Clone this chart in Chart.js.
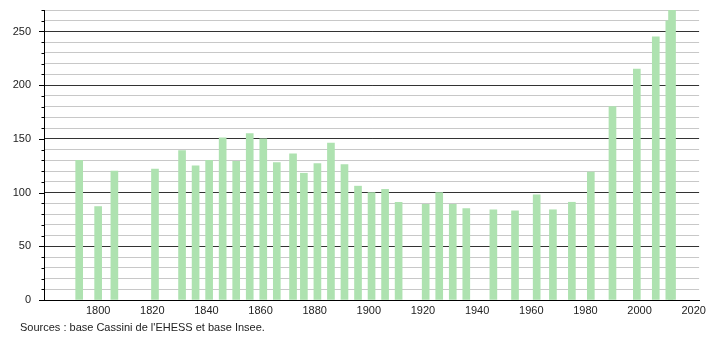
<!DOCTYPE html>
<html>
<head>
<meta charset="utf-8">
<script src="https://cdn.jsdelivr.net/npm/chart.js@4"></script>
<style>
    body { margin: 0; background: #fff; }
    #wrap { position: relative; width: 710px; height: 340px; }
    #note { position: absolute; left: 20px; top: 321px; font: 11px "Liberation Sans", Arial, sans-serif; color: #222; }
</style>
</head>
<body>
<div id="wrap">
    <canvas id="myChart" width="710" height="340"></canvas>
    <div id="note">Sources : base Cassini de l'EHESS et base Insee.</div>
</div>
<script>
const years = [1793, 1800, 1806, 1821, 1831, 1836, 1841, 1846, 1851, 1856, 1861, 1866, 1872, 1876, 1881, 1886, 1891, 1896,
    1901, 1906, 1911, 1921, 1926, 1931, 1936, 1946, 1954, 1962, 1968, 1975, 1982, 1990, 1999, 2006, 2011, 2012];
const population = [130, 87, 120, 122, 139, 125, 130, 151, 129, 155, 150, 128, 136, 118, 127, 146, 126, 106,
    100, 103, 91, 89, 100, 89, 85, 84, 83, 98, 84, 91, 119, 180, 215, 245, 260, 270];
const xTicks = [1800, 1820, 1840, 1860, 1880, 1900, 1920, 1940, 1960, 1980, 2000, 2020];
const yTicks = [0, 10, 20, 30, 40, 50, 60, 70, 80, 90, 100, 110, 120, 130, 140, 150, 160, 170, 180, 190,
    200, 210, 220, 230, 240, 250, 260, 270];

const font = { family: '"Liberation Sans", Arial, sans-serif', size: 11 };

// small ticks on the y axis, long ones every 50
const yTicksPlugin = {
    id: 'yTicks',
    afterDraw(chart) {
        const ctx = chart.ctx;
        const y = chart.scales.y;
        ctx.save();
        ctx.strokeStyle = '#000';
        ctx.lineWidth = 1;
        y.ticks.forEach(t => {
            const py = Math.round(y.getPixelForValue(t.value)) + 0.5;
            const len = t.value % 50 === 0 ? 5 : 2.5;
            ctx.beginPath();
            ctx.moveTo(y.right - len, py);
            ctx.lineTo(y.right, py);
            ctx.stroke();
        });
        ctx.restore();
    }
};

const ctx = document.getElementById('myChart').getContext('2d');
const myChart = new Chart(ctx, {
    type: 'bar',
    data: {
        datasets: [{
            data: years.map((yr, i) => ({ x: yr, y: population[i] })),
            backgroundColor: '#aee2b0',
            barThickness: 7,
        }]
    },
    options: {
        responsive: false,
        animation: false,
        layout: { padding: { top: 10, right: 10, left: 0, bottom: 0 } },
        scales: {
            x: {
                type: 'linear',
                min: 1780,
                max: 2022,
                offset: false,
                afterBuildTicks: scale => { scale.ticks = xTicks.map(v => ({ value: v })); },
                afterFit: scale => { scale.height = 40; },
                grid: { display: false, drawTicks: false },
                border: { color: '#000', width: 1 },
                ticks: { color: '#222', font: font, padding: 4, maxRotation: 0, callback: v => String(v) },
            },
            y: {
                min: 0,
                max: 270,
                afterBuildTicks: scale => { scale.ticks = yTicks.map(v => ({ value: v })); },
                afterFit: scale => { scale.width = 44; scale.paddingTop = 0; },
                grid: {
                    drawTicks: false,
                    color: c => c.tick && c.tick.value % 50 === 0 && c.tick.value > 0 ? '#333' : '#c8c8c8',
                },
                border: { color: '#000', width: 1 },
                ticks: {
                    autoSkip: false,
                    color: '#222',
                    font: font,
                    padding: 13,
                    callback: v => v % 50 === 0 ? v : '',
                },
            }
        },
        plugins: {
            legend: { display: false },
            tooltip: { enabled: false },
        }
    },
    plugins: [yTicksPlugin]
});
</script>
</body>
</html>
